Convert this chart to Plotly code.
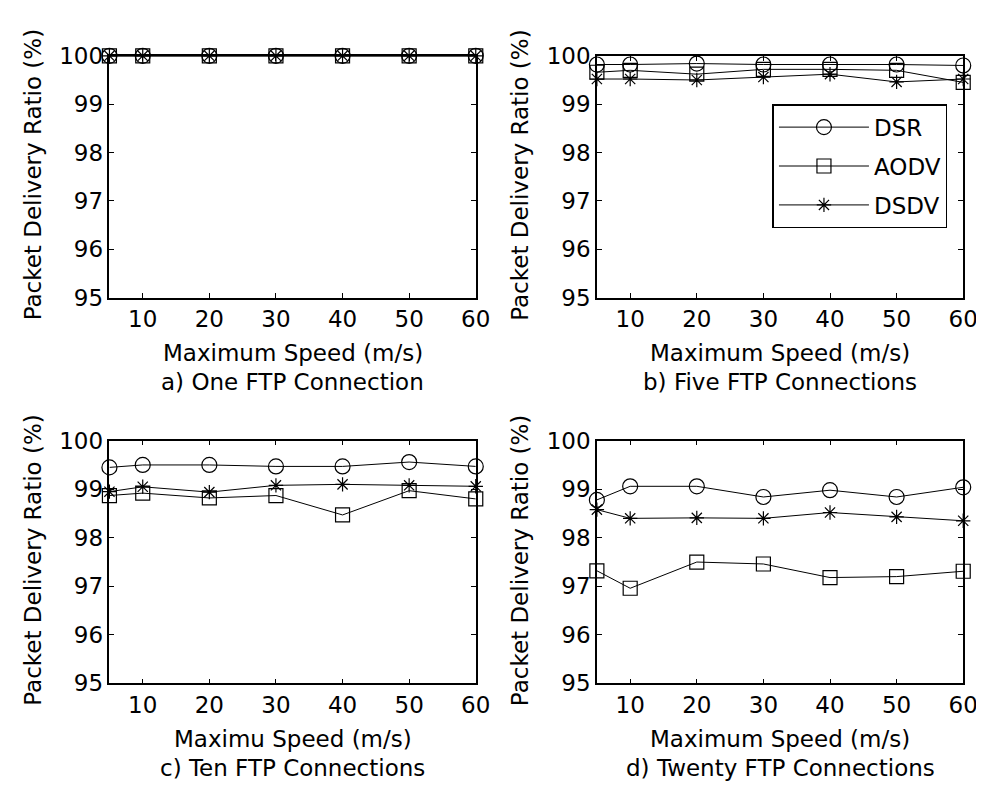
import plotly.graph_objects as go

W, H = 984, 788

speed = [5, 10, 20, 30, 40, 50, 60]
x_ticks = [10, 20, 30, 40, 50, 60]
y_ticks = [95, 96, 97, 98, 99, 100]

series_names = ["DSR", "AODV", "DSDV"]

a_dsr = [100, 100, 100, 100, 100, 100, 100]
a_aodv = [100, 100, 100, 100, 100, 100, 100]
a_dsdv = [100, 100, 100, 100, 100, 100, 100]

b_dsr = [99.82, 99.82, 99.84, 99.82, 99.82, 99.82, 99.80]
b_aodv = [99.66, 99.70, 99.62, 99.72, 99.72, 99.70, 99.45]
b_dsdv = [99.52, 99.52, 99.50, 99.56, 99.62, 99.46, 99.52]

c_dsr = [99.45, 99.50, 99.50, 99.47, 99.47, 99.56, 99.47]
c_aodv = [98.87, 98.92, 98.82, 98.87, 98.47, 98.97, 98.80]
c_dsdv = [98.95, 99.05, 98.94, 99.08, 99.10, 99.08, 99.06]

d_dsr = [98.78, 99.06, 99.06, 98.84, 98.98, 98.84, 99.04]
d_aodv = [97.32, 96.96, 97.50, 97.46, 97.18, 97.20, 97.31]
d_dsdv = [98.58, 98.40, 98.41, 98.40, 98.52, 98.43, 98.35]

panels = [
    ("a) One FTP Connection", "Maximum Speed (m/s)", [a_dsr, a_aodv, a_dsdv]),
    ("b) Five FTP Connections", "Maximum Speed (m/s)", [b_dsr, b_aodv, b_dsdv]),
    ("c) Ten FTP Connections", "Maximu Speed (m/s)", [c_dsr, c_aodv, c_dsdv]),
    ("d) Twenty FTP Connections", "Maximum Speed (m/s)", [d_dsr, d_aodv, d_dsdv]),
]

# pixel layout of axes boxes (left, right, top, bottom)
boxes = [
    (103, 475, 36, 286),
    (598, 970, 36, 286),
    (103, 475, 434, 685),
    (598, 970, 434, 685),
]

symbols = ["circle-open", "square-open", "asterisk-open"]
sizes = [15, 14, 12]

FONT = "DejaVu Sans"
FS = 23

fig = go.Figure()
annotations = []
layout = {}

for i, ((title, xlab, data), (l, r, t, b)) in enumerate(zip(panels, boxes)):
    n = "" if i == 0 else str(i + 1)
    xa, ya = "x" + n, "y" + n
    for k, (name, vals) in enumerate(zip(series_names, data)):
        fig.add_trace(go.Scatter(
            x=speed, y=vals, name=name, mode="lines+markers",
            xaxis=xa, yaxis=ya, cliponaxis=False,
            line=dict(color="black", width=1),
            marker=dict(symbol=symbols[k], size=sizes[k], color="black",
                        line=dict(color="black", width=1.2)),
            showlegend=(i == 1), legendgroup=name,
        ))
    axcommon = dict(showline=True, linecolor="black", linewidth=1.5, mirror="ticks",
                    ticks="inside", ticklen=5, tickcolor="black", showgrid=False,
                    zeroline=False, tickfont=dict(family=FONT, size=FS, color="black"))
    layout["xaxis" + n] = dict(domain=[l / W, r / W], anchor=ya, range=[5, 60],
                               tickvals=x_ticks, **axcommon)
    layout["yaxis" + n] = dict(domain=[1 - b / H, 1 - t / H], anchor=xa, range=[95, 100],
                               tickvals=y_ticks, ticklabelstandoff=0, **axcommon)
    cx = (l + r) / 2
    annotations.append(dict(text=xlab, x=cx / W, y=1 - (b + 57) / H, xref="paper", yref="paper",
                            showarrow=False, xanchor="center", yanchor="middle",
                            font=dict(family=FONT, size=FS, color="black")))
    annotations.append(dict(text=title, x=cx / W, y=1 - (b + 87) / H, xref="paper", yref="paper",
                            showarrow=False, xanchor="center", yanchor="middle",
                            font=dict(family=FONT, size=FS, color="black")))
    annotations.append(dict(text="Packet Delivery Ratio (%)", x=(l - 78) / W, y=1 - ((t + b) / 2 - 2) / H,
                            xref="paper", yref="paper", textangle=-90,
                            showarrow=False, xanchor="center", yanchor="middle",
                            font=dict(family=FONT, size=FS, color="black")))

fig.update_layout(
    width=W, height=H, margin=dict(l=0, r=0, t=0, b=0),
    paper_bgcolor="white", plot_bgcolor="white",
    annotations=annotations,
    legend=dict(x=954 / W, y=1 - 86 / H, xanchor="right", yanchor="top",
                bgcolor="white", bordercolor="black", borderwidth=1.5,
                font=dict(family=FONT, size=FS, color="black"),
                itemwidth=90, tracegroupgap=6),
    **layout,
)

fig.write_html("out.html")
